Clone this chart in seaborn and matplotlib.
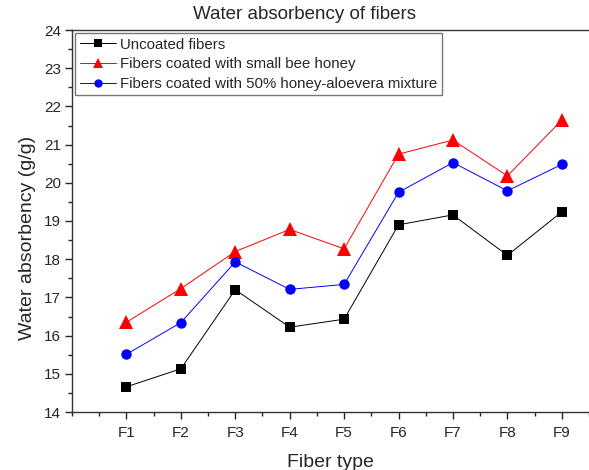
import numpy as np
import pandas as pd
import matplotlib
matplotlib.use("Agg")
import matplotlib.pyplot as plt
from matplotlib.ticker import MultipleLocator
import seaborn as sns

fiber_types = ["F1", "F2", "F3", "F4", "F5", "F6", "F7", "F8", "F9"]
uncoated = [14.66, 15.13, 17.20, 16.22, 16.43, 18.90, 19.16, 18.10, 19.24]
bee_honey = [16.35, 17.23, 18.20, 18.78, 18.27, 20.75, 21.12, 20.18, 21.64]
honey_aloe = [15.51, 16.34, 17.93, 17.21, 17.34, 19.75, 20.53, 19.79, 20.48]

series_names = ["Uncoated fibers",
                "Fibers coated with small bee honey",
                "Fibers coated with 50% honey-aloevera mixture"]

# long format for seaborn
pos = np.arange(1, len(fiber_types) + 1)
df = pd.concat([
    pd.DataFrame({"pos": pos, "value": vals, "series": name})
    for name, vals in zip(series_names, [uncoated, bee_honey, honey_aloe])
], ignore_index=True)

sns.set_style("ticks")
plt.rcParams["font.family"] = ["Liberation Sans", "DejaVu Sans"]

fig = plt.figure(figsize=(5.89, 4.70), dpi=100)
ax = fig.add_axes([72 / 589, 1 - 412 / 470, 1 - 72 / 589, (412 - 30) / 470])

palette = {series_names[0]: "#000000", series_names[1]: "#ff0000", series_names[2]: "#0000ff"}
markers = {series_names[0]: "s", series_names[1]: "^", series_names[2]: "o"}

sns.lineplot(data=df, x="pos", y="value", hue="series", style="series",
             palette=palette, markers=markers, dashes=False, markersize=7.5,
             linewidth=0.7, markeredgewidth=0, ax=ax, legend=True)

# triangles look small next to squares at the same size
msize = {"s": 7, "^": 9.5, "o": 7.5}
for line in ax.get_lines():
    m = line.get_marker()
    if m in msize:
        line.set_markersize(msize[m])

ax.set_xlim(0, 9.5)
ax.set_ylim(14, 24)
ax.set_xticks(pos)
ax.set_xticklabels(fiber_types)
ax.xaxis.set_minor_locator(MultipleLocator(0.5))
ax.yaxis.set_major_locator(MultipleLocator(1))
ax.yaxis.set_minor_locator(MultipleLocator(0.5))
ax.tick_params(which="major", direction="out", length=5, width=1, labelsize=11)
ax.tick_params(which="minor", direction="out", length=3, width=1)
ax.tick_params(axis="x", pad=5)
ax.tick_params(axis="y", pad=3)

for side in ["left", "bottom", "top"]:
    ax.spines[side].set_linewidth(1.0)
    ax.spines[side].set_color("#333333")
ax.spines["right"].set_visible(False)

ax.set_xlabel("Fiber type", fontsize=14, labelpad=10)
ax.set_ylabel("Water absorbency (g/g)", fontsize=14, labelpad=6)
ax.yaxis.label.set_y(0.455)
ax.set_title("Water absorbency of fibers", fontsize=13.5, pad=8, x=0.45)

leg = ax.legend(loc="upper left", fontsize=10.8, frameon=True, fancybox=False,
                borderaxespad=0.2, handlelength=2.4, borderpad=0.3,
                labelspacing=0.38, handletextpad=0.3, markerscale=0.8)
leg.get_frame().set_edgecolor("#555555")
leg.get_frame().set_linewidth(1.0)

fig.savefig("out.png", dpi=100)
